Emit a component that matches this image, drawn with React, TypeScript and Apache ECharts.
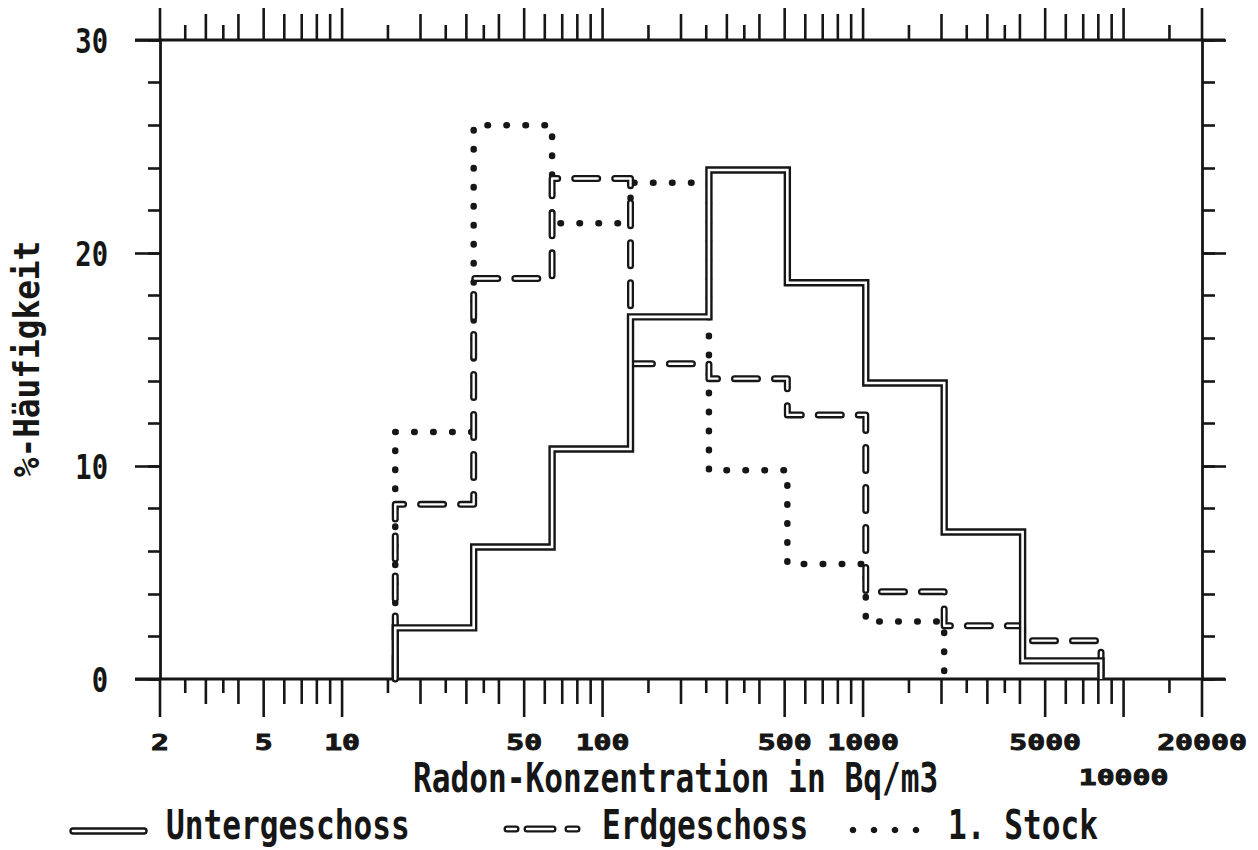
import React, { useEffect, useRef } from 'react';
import * as echarts from 'echarts';

// ---------- data ----------
const binEdges = [16, 32, 64, 128, 256, 512, 1024, 2048, 4096, 8192];
const untergeschoss = [2.4, 6.2, 10.8, 17.0, 23.9, 18.6, 13.9, 6.9, 0.85];
const erdgeschoss = [8.2, 18.8, 23.5, 14.8, 14.1, 12.4, 4.1, 2.5, 1.8];
const ersterStock = [11.6, 26.0, 21.4, 23.3, 9.8, 5.4, 2.7, 0, 0];

const seriesNames = ['Untergeschoss', 'Erdgeschoss', '1. Stock'];

const tallTicks = [2, 5, 10, 50, 100, 500, 1000, 5000, 10000, 20000];
const mediumTicks = [3, 4, 6, 7, 8, 9, 20, 30, 40, 60, 70, 80, 90, 200, 300, 400, 600, 700, 800, 900, 2000, 3000, 4000, 6000, 7000, 8000, 9000];
const shortTicks = [2.5, 3.5, 15, 25, 35, 150, 250, 350, 1500, 2500, 3500, 15000];

const xLabelValues = [2, 5, 10, 50, 100, 500, 1000, 5000, 10000, 20000];
const xLabelRows = [0, 0, 0, 0, 0, 0, 0, 0, 1, 0];
const yLabelValues = [0, 10, 20, 30];

const xTitle = 'Radon-Konzentration in Bq/m3';
const yTitle = '%-Häufigkeit';

// ---------- style ----------
const INK = '#161616';
const FONT = '"DejaVu Sans Mono", monospace';
const X_MIN = 2;
const X_MAX = 20000;
const Y_MIN = 0;
const Y_MAX = 30;
const GRID = { left: 160, right: 56, top: 40, bottom: 171 };
const W = 1258;
const H = 850;

function stepPoints(edges: number[], values: number[]) {
  let last = values.length - 1;
  while (last >= 0 && values[last] === 0) last--;
  const pts: number[][] = [[edges[0], 0]];
  for (let i = 0; i <= last; i++) {
    pts.push([edges[i], values[i]]);
    pts.push([edges[i + 1], values[i]]);
  }
  pts.push([edges[last + 1], 0]);
  return pts;
}

function textStyle(text: string, font: string, align: string, strokeW = 0) {
  const s: any = {
    text,
    font,
    fill: INK,
    textAlign: align,
    textVerticalAlign: 'middle',
    align,
    verticalAlign: 'middle',
  };
  if (strokeW > 0) {
    s.stroke = INK;
    s.lineWidth = strokeW;
  }
  return s;
}

export default function App() {
  const ref = useRef<HTMLDivElement>(null);

  useEffect(() => {
    document.body.style.margin = '0';
    if (!ref.current) return;
    const chart = echarts.init(ref.current, null, { renderer: 'svg' });

    const bottomLen = [14, 25, 38];
    const topLen = [15, 26, 32];
    const tickData = [
      ...shortTicks.map((v) => [v, 0]),
      ...mediumTicks.map((v) => [v, 1]),
      ...tallTicks.map((v) => [v, 2]),
    ];

    const frameY0 = GRID.top;
    const frameY1 = H - GRID.bottom;
    const frameX0 = GRID.left - 25;
    const frameX1 = W - GRID.right + 23;

    const line = (name: string, data: number[][], width: number, type: any, cap: string, join: string) => ({
      type: 'line',
      name,
      data,
      xAxisIndex: 0,
      yAxisIndex: 0,
      showSymbol: false,
      symbol: 'none',
      silent: true,
      clip: false,
      lineStyle: { color: INK, width, type, cap, join, opacity: 1 },
      emphasis: { disabled: true },
    });
    const whiteLine = (data: number[][], width: number, type: any, cap: string, join: string) => ({
      ...line('', data, width, type, cap, join),
      lineStyle: { color: '#ffffff', width, type, cap, join, opacity: 1 },
    });

    const ugPts = stepPoints(binEdges, untergeschoss);
    const egPts = stepPoints(binEdges, erdgeschoss);
    const stPts = stepPoints(binEdges, ersterStock);

    const titleFont = `bold 41px ${FONT}`;

    const option: any = {
      animation: false,
      backgroundColor: '#ffffff',
      grid: { ...GRID, containLabel: false },
      xAxis: {
        type: 'log',
        logBase: 10,
        min: X_MIN,
        max: X_MAX,
        axisLine: { show: false, onZero: false },
        axisTick: { show: false },
        axisLabel: { show: false },
        splitLine: { show: false },
      },
      yAxis: [
        {
          type: 'value', position: 'left', min: Y_MIN, max: Y_MAX, interval: 2,
          axisLine: { show: true, onZero: false, lineStyle: { color: INK, width: 2.8 } },
          axisTick: { show: true, length: 12, lineStyle: { color: INK, width: 2.6 } },
          axisLabel: { show: false }, splitLine: { show: false },
        },
        {
          type: 'value', position: 'left', min: Y_MIN, max: Y_MAX, interval: 10,
          axisLine: { show: false, onZero: false },
          axisTick: { show: true, length: 25, lineStyle: { color: INK, width: 2.6 } },
          axisLabel: { show: false }, splitLine: { show: false },
        },
        {
          type: 'value', position: 'right', min: Y_MIN, max: Y_MAX, interval: 2,
          axisLine: { show: true, onZero: false, lineStyle: { color: INK, width: 2.8 } },
          axisTick: { show: true, length: 13, lineStyle: { color: INK, width: 2.6 } },
          axisLabel: { show: false }, splitLine: { show: false },
        },
        {
          type: 'value', position: 'right', min: Y_MIN, max: Y_MAX, interval: 10,
          axisLine: { show: false, onZero: false },
          axisTick: { show: true, length: 24, lineStyle: { color: INK, width: 2.6 } },
          axisLabel: { show: false }, splitLine: { show: false },
        },
      ],
      series: [
        // 1. Stock (dotted)
        line(seriesNames[2], stPts, 6.5, [0.5, 18.5], 'round', 'round'),
        // Erdgeschoss (outlined dashes)
        line(seriesNames[1], egPts, 7, [23, 17], 'round', 'round'),
        whiteLine(egPts, 2.4, [23, 17], 'round', 'round'),
        // Untergeschoss (double line)
        line(seriesNames[0], ugPts, 7.4, 'solid', 'butt', 'miter'),
        whiteLine(ugPts, 2.6, 'solid', 'butt', 'miter'),
        // x-axis ticks (bottom and top)
        {
          type: 'custom',
          xAxisIndex: 0,
          yAxisIndex: 0,
          silent: true,
          clip: false,
          data: tickData,
          renderItem: (_p: any, api: any) => {
            const v = api.value(0);
            const k = api.value(1);
            const b = api.coord([v, Y_MIN]);
            const t = api.coord([v, Y_MAX]);
            return {
              type: 'group',
              children: [
                { type: 'line', shape: { x1: b[0], y1: b[1], x2: b[0], y2: b[1] + bottomLen[k] }, style: { stroke: INK, lineWidth: 2.6 } },
                { type: 'line', shape: { x1: t[0], y1: t[1], x2: t[0], y2: t[1] - topLen[k] }, style: { stroke: INK, lineWidth: 2.6 } },
              ],
            };
          },
        },
        // x-axis tick labels
        {
          type: 'custom',
          xAxisIndex: 0,
          yAxisIndex: 0,
          silent: true,
          clip: false,
          data: xLabelValues.map((v, i) => [v, xLabelRows[i]]),
          renderItem: (_p: any, api: any) => {
            const v = api.value(0);
            const row = api.value(1);
            const p = api.coord([v, Y_MIN]);
            return {
              type: 'text',
              x: p[0],
              y: p[1] + (row ? 99 : 64),
              scaleX: 1.42,
              style: textStyle(String(v), `bold 21px ${FONT}`, 'center', 0.9),
            };
          },
        },
        // y-axis tick labels
        {
          type: 'custom',
          xAxisIndex: 0,
          yAxisIndex: 0,
          silent: true,
          clip: false,
          data: yLabelValues.map((v) => [X_MIN, v]),
          renderItem: (_p: any, api: any) => {
            const v = api.value(1);
            const p = api.coord([X_MIN, v]);
            return {
              type: 'text',
              x: p[0] - 52,
              y: p[1] + 1,
              scaleX: 0.8,
              style: textStyle(String(v), `bold 34px ${FONT}`, 'right'),
            };
          },
        },
      ],
      graphic: [
        // frame lines extending past the axes
        { type: 'line', shape: { x1: frameX0, y1: frameY0, x2: frameX1, y2: frameY0 }, style: { stroke: INK, lineWidth: 2.8 }, silent: true },
        { type: 'line', shape: { x1: frameX0, y1: frameY1, x2: frameX1, y2: frameY1 }, style: { stroke: INK, lineWidth: 2.8 }, silent: true },
        // axis titles
        { type: 'text', x: 413, y: 778, scaleX: 0.76, style: textStyle(xTitle, titleFont, 'left'), silent: true },
        { type: 'text', x: 26, y: 359, rotation: Math.PI / 2, scaleX: 0.91, style: textStyle(yTitle, `bold 36px ${FONT}`, 'center'), silent: true },
        // legend: Untergeschoss
        { type: 'line', shape: { x1: 73, y1: 831, x2: 144, y2: 831 }, style: { stroke: INK, lineWidth: 7.4, lineCap: 'round' }, silent: true },
        { type: 'line', shape: { x1: 73, y1: 831, x2: 144, y2: 831 }, style: { stroke: '#ffffff', lineWidth: 2.6, lineCap: 'round' }, silent: true },
        { type: 'text', x: 166, y: 825, scaleX: 0.76, style: textStyle(seriesNames[0], titleFont, 'left'), silent: true },
        // legend: Erdgeschoss
        ...[[507, 516], [527, 553], [568, 577]].flatMap(([a, b]) => [
          { type: 'line', shape: { x1: a, y1: 829, x2: b, y2: 829 }, style: { stroke: INK, lineWidth: 7, lineCap: 'round' }, silent: true },
          { type: 'line', shape: { x1: a, y1: 829, x2: b, y2: 829 }, style: { stroke: '#ffffff', lineWidth: 2.4, lineCap: 'round' }, silent: true },
        ]),
        { type: 'text', x: 602, y: 825, scaleX: 0.76, style: textStyle(seriesNames[1], titleFont, 'left'), silent: true },
        // legend: 1. Stock
        ...[853, 874, 895, 916].map((cx) => ({ type: 'circle', shape: { cx, cy: 830, r: 3.3 }, style: { fill: INK }, silent: true })),
        { type: 'text', x: 948, y: 825, scaleX: 0.76, style: textStyle(seriesNames[2], titleFont, 'left'), silent: true },
      ],
    };

    chart.setOption(option);
    return () => chart.dispose();
  }, []);

  return <div ref={ref} style={{ position: 'absolute', left: 0, top: 0, width: W, height: H, background: '#fff' }} />;
}
